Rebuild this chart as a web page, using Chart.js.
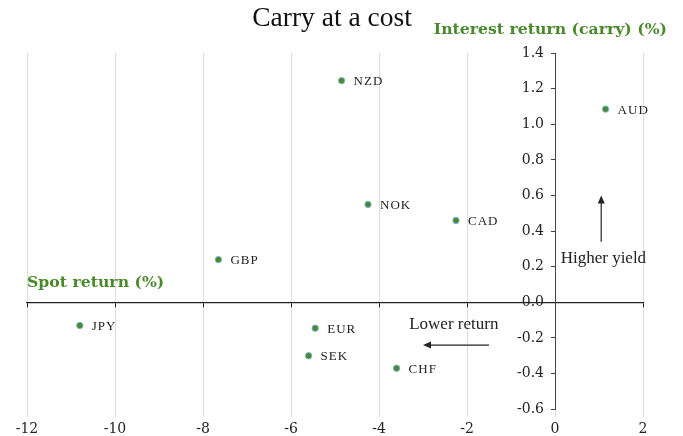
<!DOCTYPE html>
<html>
<head>
<meta charset="utf-8">
<script src="https://cdn.jsdelivr.net/npm/chart.js@4/dist/chart.umd.min.js"></script>
<style>
  html, body { margin: 0; padding: 0; background: #fff; }
  #wrap { width: 683px; height: 436px; position: relative; }
</style>
</head>
<body>
<div id="wrap"><canvas id="chart"></canvas></div>
<script>
// data
const currencies = ['NZD', 'AUD', 'NOK', 'CAD', 'GBP', 'JPY', 'EUR', 'SEK', 'CHF'];
const spotReturn = [-4.85, 1.15, -4.25, -2.25, -7.65, -10.8, -5.45, -5.6, -3.6];
const carryReturn = [1.245, 1.085, 0.55, 0.46, 0.24, -0.13, -0.145, -0.3, -0.37];

const xTicks = [-12, -10, -8, -6, -4, -2, 0, 2];
const yTicks = [-0.6, -0.4, -0.2, 0.0, 0.2, 0.4, 0.6, 0.8, 1.0, 1.2, 1.4];

const green = '#4a8a2c';
const serif = "'Liberation Serif', serif";
const wideSerif = "'DejaVu Serif', serif";

const points = currencies.map((c, i) => ({ x: spotReturn[i], y: carryReturn[i], label: c }));

function drawArrow(ctx, x1, y1, x2, y2) {
    const ang = Math.atan2(y2 - y1, x2 - x1);
    ctx.beginPath();
    ctx.moveTo(x1, y1);
    ctx.lineTo(x2 - 6 * Math.cos(ang), y2 - 6 * Math.sin(ang));
    ctx.stroke();
    ctx.beginPath();
    ctx.moveTo(x2, y2);
    ctx.lineTo(x2 - 8 * Math.cos(ang) + 3.5 * Math.sin(ang), y2 - 8 * Math.sin(ang) - 3.5 * Math.cos(ang));
    ctx.lineTo(x2 - 8 * Math.cos(ang) - 3.5 * Math.sin(ang), y2 - 8 * Math.sin(ang) + 3.5 * Math.cos(ang));
    ctx.closePath();
    ctx.fill();
}

const extras = {
    id: 'extras',
    afterDatasetsDraw(chart) {
        const ctx = chart.ctx;
        const xs = chart.scales.x, ys = chart.scales.y;
        const area = chart.chartArea;
        const x0 = xs.getPixelForValue(0);
        ctx.save();

        // title
        ctx.fillStyle = '#111';
        ctx.font = '27.5px ' + serif;
        ctx.textAlign = 'center';
        ctx.textBaseline = 'alphabetic';
        ctx.fillText('Carry at a cost', 332, 26);

        // y tick labels, left of the y axis that sits at x = 0
        ctx.fillStyle = '#222';
        ctx.font = '14px ' + wideSerif;
        ctx.textAlign = 'right';
        ctx.textBaseline = 'middle';
        yTicks.forEach(v => {
            ctx.fillText(v.toFixed(1), x0 - 11, ys.getPixelForValue(v));
        });

        // point labels
        ctx.font = '13px ' + serif;
        ctx.letterSpacing = '1px';
        ctx.textAlign = 'left';
        chart.getDatasetMeta(0).data.forEach((el, i) => {
            ctx.fillText(currencies[i], el.x + 12, el.y + 1);
        });
        ctx.letterSpacing = '0px';

        // axis titles
        ctx.fillStyle = green;
        ctx.font = 'bold 15.7px ' + wideSerif;
        ctx.textAlign = 'right';
        ctx.fillText('Interest return (carry) (%)', chart.width - 16, area.top - 23);
        ctx.textAlign = 'left';
        ctx.fillText('Spot return (%)', area.left, ys.getPixelForValue(0.11));

        // annotations
        ctx.fillStyle = '#222';
        ctx.strokeStyle = '#222';
        ctx.lineWidth = 1.2;
        ctx.font = '17px ' + serif;
        ctx.textAlign = 'center';
        ctx.fillText('Higher yield', xs.getPixelForValue(1.1), ys.getPixelForValue(0.245));
        ctx.fillText('Lower return', xs.getPixelForValue(-2.3), ys.getPixelForValue(-0.125));
        drawArrow(ctx, xs.getPixelForValue(1.05), ys.getPixelForValue(0.34), xs.getPixelForValue(1.05), ys.getPixelForValue(0.6));
        drawArrow(ctx, xs.getPixelForValue(-1.5), ys.getPixelForValue(-0.24), xs.getPixelForValue(-3.0), ys.getPixelForValue(-0.24));
        ctx.restore();
    }
};

new Chart(document.getElementById('chart'), {
    type: 'scatter',
    data: {
        datasets: [{
            data: points,
            backgroundColor: green,
            borderColor: '#7fb2dc',
            borderWidth: 1,
            pointRadius: 3.2,
            pointHoverRadius: 3.2
        }]
    },
    options: {
        animation: false,
        responsive: true,
        maintainAspectRatio: false,
        layout: { padding: { left: 27, right: 40, top: 53, bottom: -6 } },
        plugins: {
            legend: { display: false },
            tooltip: { enabled: false },
            title: { display: false }
        },
        scales: {
            x: {
                type: 'linear',
                position: 'bottom',
                min: -12, max: 2,
                afterBuildTicks: s => { s.ticks = xTicks.map(v => ({ value: v })); },
                grid: { color: '#dddddd', lineWidth: 1, drawTicks: true, tickLength: 8 },
                border: { display: false },
                ticks: { color: '#222', padding: 4, font: { family: wideSerif, size: 14 } }
            },
            x2: {
                type: 'linear',
                axis: 'x',
                position: { y: 0 },
                min: -12, max: 2,
                afterBuildTicks: s => { s.ticks = xTicks.map(v => ({ value: v })); },
                grid: { drawOnChartArea: false, drawTicks: true, tickLength: 4, color: '#222' },
                border: { display: true, color: '#222', width: 1.3 },
                ticks: { callback: () => '', padding: 0 }
            },
            y: {
                type: 'linear',
                position: { x: 0 },
                min: -0.6, max: 1.4,
                afterBuildTicks: s => { s.ticks = yTicks.map(v => ({ value: v })); },
                grid: { drawOnChartArea: false, drawTicks: true, tickLength: 4, color: '#444' },
                border: { display: true, color: '#444', width: 1 },
                ticks: { display: false }
            }
        }
    },
    plugins: [extras]
});
</script>
</body>
</html>
